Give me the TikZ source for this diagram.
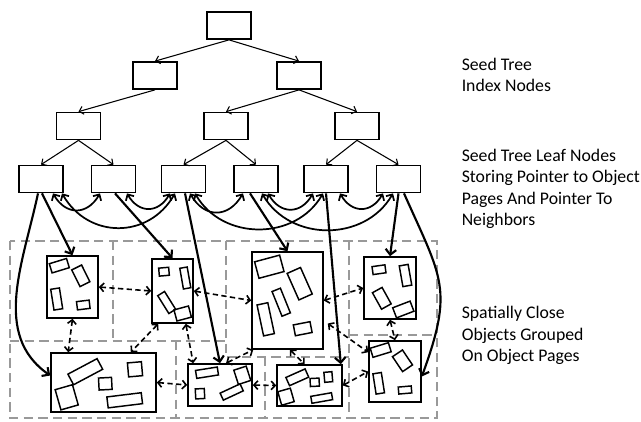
\documentclass[tikz,border=0pt]{standalone}
\usepackage{fontspec}
\setmainfont{Carlito}
\usetikzlibrary{arrows.meta,calc}

\begin{document}
\begin{tikzpicture}[x=0.75pt, y=-0.75pt,
  box/.style={draw, line width=1.3pt, minimum width=33pt, minimum height=20.25pt, inner sep=0pt},
  page/.style 2 args={draw, line width=1.2pt, minimum width=#1*0.75pt, minimum height=#2*0.75pt, inner sep=0pt},
  obj/.style={draw, line width=1.1pt},
  tree/.style={line width=0.8pt, -{Straight Barb[length=3pt,width=6pt]}},
  ptr/.style={line width=1.6pt, -{Straight Barb[length=4pt,width=8pt]}},
  nbr/.style={line width=1.3pt, {Straight Barb[length=3.5pt,width=7pt]}-{Straight Barb[length=3.5pt,width=7pt]}},
  near/.style={line width=1.2pt, dash pattern=on 4pt off 2.5pt, {Straight Barb[length=3pt,width=6.5pt]}-{Straight Barb[length=3pt,width=6.5pt]}},
  zone/.style={gray!80, line width=1.4pt, dash pattern=on 7pt off 4pt},
  lbl/.style={anchor=base west, inner sep=0pt, font=\fontsize{13.3pt}{16pt}\selectfont}]

\useasboundingbox (0,0) rectangle (641,421);

% zones of the object pages
\draw[zone] (10,241) rectangle (437,418);
\draw[zone] (10,341) -- (226,341);
\draw[zone] (113,241) -- (113,341);
\draw[zone] (226,241) -- (226,357) -- (349,357);
\draw[zone] (349,241) -- (349,418);
\draw[zone] (349,335) -- (437,335);
\draw[zone] (176,341) -- (176,418);
\draw[zone] (265,357) -- (265,418);

% seed tree
\node[box] (root) at (229,25.5) {};
\node[box] (ia) at (155,75.5) {};
\node[box] (ib) at (299,75.5) {};
\node[box] (ja) at (78.5,126) {};
\node[box] (jb) at (226,126) {};
\node[box] (jc) at (357,126) {};
\foreach \n/\x in {1/41,2/113.5,3/183.5,4/256,5/326,6/398.5}
  \node[box] (l\n) at (\x,179) {};

\foreach \a/\b in {root/ia,root/ib,ia/ja,ib/jb,ib/jc,ja/l1,ja/l2,jb/l3,jb/l4,jc/l5,jc/l6}
  \draw[tree] (\a.south) -- (\b.north);

% object pages
\node[page={51}{62}] (p1) at (72.5,287) {};
\node[page={41}{64}] (p2) at (172.5,291) {};
\node[page={71}{97}] (p3) at (287.5,300.5) {};
\node[page={52}{62}] (p4) at (390,288) {};
\node[page={105}{59}] (p5) at (103.5,382.5) {};
\node[page={64}{42}] (p6) at (220,385) {};
\node[page={65}{41}] (p7) at (309.5,385.5) {};
\node[page={52}{61}] (p8) at (395,371.5) {};

% objects
\foreach \cx/\cy/\w/\h/\a in {
  59.3/265.7/18/9.6/17, 80.8/275.8/11/18.6/26.5, 56.7/299/8.8/21/9, 83.3/305/12.7/8.3/7,
  164/271.7/10/8/5, 185.3/278/7.5/21/10, 166.7/302.5/21/8/-58, 182.7/313.5/15/11.5/15,
  269.3/266.7/25.9/17/15, 299.7/283.7/14.6/29/24, 281.2/302.2/9/26.6/22, 265.7/319.3/11/31.6/12, 302.7/328.7/17/11/11,
  379/269.7/13/8/8, 405.5/275.5/9/21/10, 381.8/298.3/11/18.8/29, 403.3/309.5/18.6/10.8/21,
  85.3/371.7/33/12/28, 66.7/397.3/18/21/16, 105.3/383.7/13/12/3, 135/369.3/14/14/5, 124.7/400.3/34.6/11/7,
  207/372.7/22/8/9, 242.3/375.3/13/15/18, 200/393.7/9/10/3, 231.7/392/22/7.7/25,
  297.3/377.3/21/9/24, 286/396.7/13/14/16, 314.7/382.3/9/8/3, 328.3/377/8/10/5, 321.7/398/21/7/10,
  380.7/350/19/9.5/17, 402.5/360.8/12/18/34, 378.7/383.3/8.5/20.5/9, 405/390/13/7/5}
  \draw[obj, shift={(\cx,\cy)}, rotate=\a] (-\w/2,-\h/2) rectangle (\w/2,\h/2);

% leaf pointers to pages
\draw[ptr] ($(l1.south)+(-3,0)$) to[out=-102,in=145] ($(p5.west)+(0,-7)$);
\draw[ptr] ($(l1.south)+(1,0)$) -- (p1.north);
\draw[ptr] ($(l2.south)+(1.5,0)$) -- (p2.north);
\draw[ptr] ($(l3.south)+(1.5,0)$) -- (p6.north);
\draw[ptr] ($(l4.south)+(-6,0)$) -- (p3.north);
\draw[ptr] (l5.south) -- ($(p7.north east)+(-2,0)$);
\draw[ptr] (l6.south) -- (p4.north);
\draw[ptr] ($(l6.south)+(5.5,0)$) to[out=-66,in=70,looseness=1.3] ($(p8.east)+(0,5)$);

% leaf neighbors
\draw[nbr] ($(l1.south)+(12,0)$) to[out=-60,in=-120,looseness=1.4] ($(l2.south)+(-13.5,0)$);
\draw[nbr] ($(l1.south)+(21,0)$) to[out=-60,in=-120,looseness=1.2] ($(l3.south)+(-8.5,0)$);
\draw[nbr] ($(l2.south)+(13.5,0)$) to[out=-60,in=-120,looseness=1.4] ($(l3.south)+(-13.5,0)$);
\draw[nbr] ($(l3.south)+(6.5,0)$) to[out=-60,in=-120,looseness=1.4] ($(l4.south)+(-13,0)$);
\draw[nbr] ($(l3.south)+(11.5,0)$) to[out=-60,in=-120,looseness=1.1] ($(l5.south)+(-3,0)$);
\draw[nbr] ($(l4.south)+(12,0)$) to[out=-60,in=-120,looseness=1.4] ($(l5.south)+(-13,0)$);
\draw[nbr] ($(l4.south)+(6,0)$) to[out=-60,in=-120,looseness=1.1] ($(l6.south)+(-5.5,0)$);
\draw[nbr] ($(l5.south)+(14,0)$) to[out=-60,in=-120,looseness=1.4] ($(l6.south)+(-15.5,0)$);

% page neighbors
\draw[near] (p1.east) -- (p2.west);
\draw[near] (p1.south) -- ($(p5.north west)+(18,0)$);
\draw[near] ($(p2.south west)+(7,0)$) -- ($(p5.north east)+(-26,0)$);
\draw[near] ($(p2.south east)+(-8,0)$) -- ($(p6.north west)+(6,0)$);
\draw[near] (p2.east) -- (p3.west);
\draw[near] (p5.east) -- (p6.west);
\draw[near] ($(p6.north)+(6,0)$) -- ($(p3.south west)+(2,0)$);
\draw[near] (p6.east) -- (p7.west);
\draw[near] ($(p3.south)+(2.5,0)$) -- ($(p7.north)+(-5,0)$);
\draw[near] (p3.east) -- (p4.west);
\draw[near] ($(p3.east)+(4,23)$) -- ($(p8.north west)+(0,12)$);
\draw[near] (p4.south) -- (p8.north);
\draw[near] (p7.east) -- (p8.west);

% labels
\foreach \t [count=\i] in {Seed Tree, Index Nodes}
  \node[lbl] (ta\i) at (461.5,{70.2+21.5*(\i-1)}) {\t};
\foreach \t [count=\i] in {Seed Tree Leaf Nodes, Storing Pointer to Object, Pages And Pointer To, Neighbors}
  \node[lbl] (tb\i) at (461.5,{161+21.5*(\i-1)}) {\t};
\foreach \t [count=\i] in {Spatially Close, Objects Grouped, On Object Pages}
  \node[lbl] (tc\i) at (461.5,{318.5+21.5*(\i-1)}) {\t};

\end{tikzpicture}
\end{document}
